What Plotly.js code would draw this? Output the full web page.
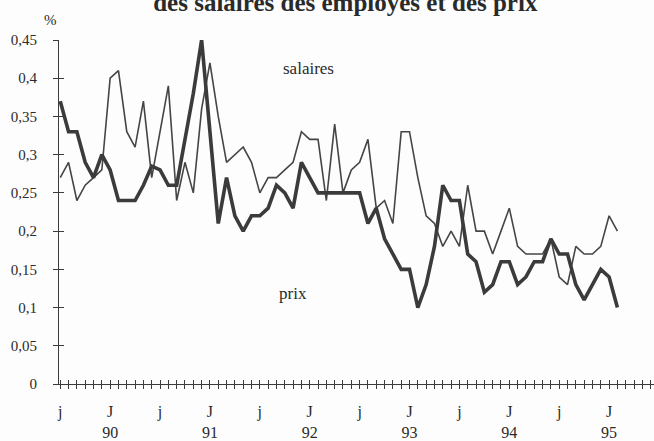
<!DOCTYPE html>
<html><head><meta charset="utf-8">
<script src="https://cdn.plot.ly/plotly-3.0.1.min.js"></script>
<style>html,body{margin:0;padding:0;background:#fdfdfd}#chart{width:654px;height:441px}</style>
</head><body><div id="chart"></div>
<script>
// month index: 0 = juillet 1989 ... 67 = février 1995
const monthIndex = [0,1,2,3,4,5,6,7,8,9,10,11,12,13,14,15,16,17,18,19,20,21,22,23,24,25,26,27,28,29,30,31,32,33,34,35,36,37,38,39,40,41,42,43,44,45,46,47,48,49,50,51,52,53,54,55,56,57,58,59,60,61,62,63,64,65,66,67];
const salaires = [0.27,0.29,0.24,0.26,0.27,0.28,0.40,0.41,0.33,0.31,0.37,0.27,0.33,0.39,0.24,0.29,0.25,0.36,0.42,0.35,0.29,0.30,0.31,0.29,0.25,0.27,0.27,0.28,0.29,0.33,0.32,0.32,0.24,0.34,0.25,0.28,0.29,0.32,0.23,0.24,0.21,0.33,0.33,0.27,0.22,0.21,0.18,0.20,0.18,0.26,0.20,0.20,0.17,0.20,0.23,0.18,0.17,0.17,0.17,0.19,0.14,0.13,0.18,0.17,0.17,0.18,0.22,0.20];
const prix = [0.37,0.33,0.33,0.29,0.27,0.30,0.28,0.24,0.24,0.24,0.26,0.285,0.28,0.26,0.26,0.32,0.38,0.45,0.33,0.21,0.27,0.22,0.20,0.22,0.22,0.23,0.26,0.25,0.23,0.29,0.27,0.25,0.25,0.25,0.25,0.25,0.25,0.21,0.23,0.19,0.17,0.15,0.15,0.10,0.13,0.18,0.26,0.24,0.24,0.17,0.16,0.12,0.13,0.16,0.16,0.13,0.14,0.16,0.16,0.19,0.17,0.17,0.13,0.11,0.13,0.15,0.14,0.10];
const tickMonths = [0,1,2,3,4,5,6,7,8,9,10,11,12,13,14,15,16,17,18,19,20,21,22,23,24,25,26,27,28,29,30,31,32,33,34,35,36,37,38,39,40,41,42,43,44,45,46,47,48,49,50,51,52,53,54,55,56,57,58,59,60,61,62,63,64,65,66,67,68,69,70,71];
const labelMonths = [0,6,12,18,24,30,36,42,48,54,60,66];
const labelTexts = ['j','J<br>90','j','J<br>91','j','J<br>92','j','J<br>93','j','J<br>94','j','J<br>95'];
const yTickVals = [0,0.05,0.1,0.15,0.2,0.25,0.3,0.35,0.4,0.45];
const yTickText = ['0','0,05','0,1','0,15','0,2','0,25','0,3','0,35','0,4','0,45'];

const xTickText = tickMonths.map(m => { const k = labelMonths.indexOf(m); return k >= 0 ? labelTexts[k] : ''; });
const ink = '#3b3b3b';
const serif = 'Liberation Serif';

const traces = [
  {x: monthIndex, y: salaires, type: 'scatter', mode: 'lines', name: 'salaires',
   line: {color: '#454545', width: 1.6}, cliponaxis: false, hoverinfo: 'skip'},
  {x: monthIndex, y: prix, type: 'scatter', mode: 'lines', name: 'prix',
   line: {color: ink, width: 3.6}, cliponaxis: false, hoverinfo: 'skip'},
  {x: [0], y: [0], xaxis: 'x2', yaxis: 'y2', type: 'scatter', mode: 'markers',
   marker: {opacity: 0}, hoverinfo: 'skip', showlegend: false}
];

const xr = [-0.15, 71.4], yr = [0, 0.45];
const layout = {
  width: 654, height: 441,
  paper_bgcolor: '#fdfdfd', plot_bgcolor: 'rgba(0,0,0,0)',
  margin: {l: 59, r: 0, t: 40, b: 57},
  showlegend: false,
  font: {family: serif, color: '#2a2a2a'},
  title: {text: '<b>des salaires des employés et des prix</b>', font: {family: serif, size: 25, color: '#2a2a2a'},
          x: 0.528, xref: 'container', xanchor: 'center', y: 1 - 2/441, yref: 'container', yanchor: 'middle'},
  xaxis: {range: xr, tickmode: 'array', tickvals: tickMonths, ticktext: xTickText,
          ticks: 'outside', ticklen: 4, tickwidth: 1, tickcolor: ink,
          showline: true, linecolor: ink, linewidth: 1, showgrid: false, zeroline: false,
          tickfont: {family: serif, size: 16, color: '#2a2a2a'}, ticklabelstandoff: 9, tickangle: 0, fixedrange: true},
  xaxis2: {range: xr, overlaying: 'x', anchor: 'y', side: 'bottom', tickmode: 'array', tickvals: tickMonths,
           ticks: 'inside', ticklen: 4, tickwidth: 1, tickcolor: ink, showticklabels: false,
           showline: false, showgrid: false, zeroline: false},
  yaxis: {range: yr, tickmode: 'array', tickvals: yTickVals, ticktext: yTickText,
          ticks: 'outside', ticklen: 5, tickwidth: 1, tickcolor: ink,
          showline: true, linecolor: ink, linewidth: 1, showgrid: false, zeroline: false,
          tickfont: {family: serif, size: 15, color: '#2a2a2a'}, ticklabelstandoff: 13, fixedrange: true},
  yaxis2: {range: yr, overlaying: 'y', anchor: 'x', side: 'left', tickmode: 'array', tickvals: yTickVals,
           ticks: 'inside', ticklen: 5, tickwidth: 1, tickcolor: ink, showticklabels: false,
           showline: false, showgrid: false, zeroline: false},
  annotations: [
    {text: '%', xref: 'paper', yref: 'paper', x: -0.0151, y: 1.058, xanchor: 'center', yanchor: 'middle', showarrow: false,
     font: {family: serif, size: 15, color: '#2a2a2a'}},
    {text: 'salaires', xref: 'x', yref: 'y', x: 29.8, y: 0.413, showarrow: false,
     font: {family: serif, size: 17, color: '#2a2a2a'}},
    {text: 'prix', xref: 'x', yref: 'y', x: 28, y: 0.118, showarrow: false,
     font: {family: serif, size: 17, color: '#2a2a2a'}}
  ]
};
Plotly.newPlot('chart', traces, layout, {displayModeBar: false, staticPlot: true});
</script>
</body></html>
